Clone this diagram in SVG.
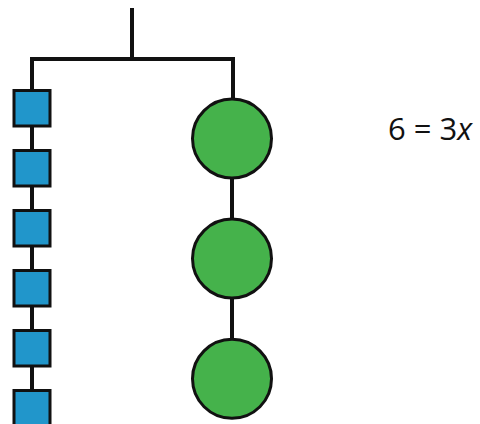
<svg xmlns="http://www.w3.org/2000/svg" width="480" height="424" viewBox="0 0 480 424">
<style>
.wire{fill:none;stroke:#111;stroke-width:4;stroke-linecap:butt;stroke-linejoin:miter}
.sq{fill:#2196CB;stroke:#111;stroke-width:3}
.ci{fill:#45B24B;stroke:#111;stroke-width:3}
.eq{font-family:"Open Sans","Noto Sans",sans-serif;font-size:31px;fill:#111}
</style>
<rect width="480" height="424" fill="#fff"/>
<g id="connectors">
<path class="wire" d="M132 8V59M32 424V59H233V100"/>
<path class="wire" d="M232 178V220M232 298V340"/>
</g>
<g id="square1"><rect class="sq" x="14" y="90.5" width="36" height="35.5"/></g>
<g id="square2"><rect class="sq" x="14" y="150.5" width="36" height="35.5"/></g>
<g id="square3"><rect class="sq" x="14" y="210.5" width="36" height="35.5"/></g>
<g id="square4"><rect class="sq" x="14" y="270.5" width="36" height="35.5"/></g>
<g id="square5"><rect class="sq" x="14" y="330.5" width="36" height="35.5"/></g>
<g id="square6"><rect class="sq" x="14" y="390.5" width="36" height="35.5"/></g>
<g id="circle1"><circle class="ci" cx="232" cy="138.5" r="39.5"/></g>
<g id="circle2"><circle class="ci" cx="232" cy="258.5" r="39.5"/></g>
<g id="circle3"><circle class="ci" cx="232" cy="378.8" r="39.5"/></g>
<g id="equation"><text class="eq" x="388" y="140">6 = 3<tspan font-style="italic">x</tspan></text></g>
</svg>
